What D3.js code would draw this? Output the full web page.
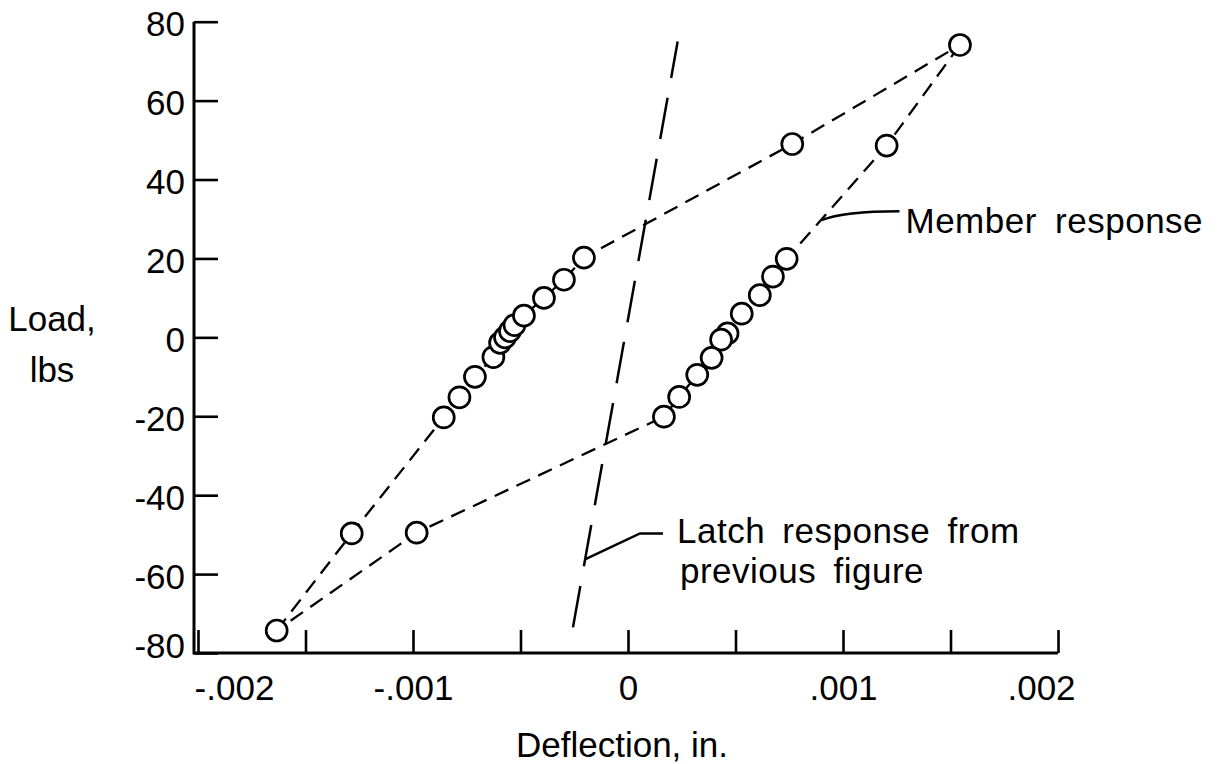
<!DOCTYPE html>
<html>
<head>
<meta charset="utf-8">
<script src="https://cdn.jsdelivr.net/npm/d3@7/dist/d3.min.js"></script>
<style>
  html, body { margin: 0; padding: 0; background: #fff; }
  svg { display: block; }
  text { font-family: "Liberation Sans", Arial, Helvetica, sans-serif; fill: #000; }
</style>
</head>
<body>
<svg id="chart" width="1219" height="764"></svg>
<script>
// Member response: loading branch (from -74 lbs up to +74 lbs), deflection in inches
const loadingDeflection = [-0.001634, -0.001285, -0.000857, -0.000784, -0.000712, -0.000626,
  -0.000595, -0.000572, -0.000549, -0.000528, -0.000484, -0.000391, -0.000298, -0.000205,
  0.000764, 0.001544];
const loadingLoad = [-74.3, -49.7, -20.3, -15.2, -10, -5, -1.4, 0, 1.6, 3.1, 5.5, 10, 14.6, 20.2,
  49.0, 74.1];

// Member response: unloading branch (from +74 lbs back down to -74 lbs)
const unloadingDeflection = [0.001544, 0.001203, 0.000738, 0.000674, 0.000613, 0.000529,
  0.000463, 0.000433, 0.000389, 0.000322, 0.000238, 0.000167, -0.000983, -0.001634];
const unloadingLoad = [74.1, 48.6, 19.9, 15.4, 10.7, 6.0, 1.0, -0.6, -5.2, -9.5, -15.1, -20.1,
  -49.5, -74.3];

// Latch response from previous figure (straight line)
const latchDeflection = [-0.000256, 0.000231];
const latchLoad = [-73.5, 75];

// Axis ticks
const xTickValues = [-0.002, -0.0015, -0.001, -0.0005, 0, 0.0005, 0.001, 0.0015, 0.002];
const xTickLabels = ["-.002", "", "-.001", "", "0", "", ".001", "", ".002"];
const yTickValues = [80, 60, 40, 20, 0, -20, -40, -60, -80];
const yTickLabels = ["80", "60", "40", "20", "0", "-20", "-40", "-60", "-80"];

const svg = d3.select("#chart");
const x = d3.scaleLinear().domain([-0.002, 0.002]).range([198, 1058]);
const y = d3.scaleLinear().domain([-80, 80]).range([653, 21.7]);

const FONT = 35;

// Frame: left and bottom axis lines
const frameLeft = x(-0.002) - 4;
svg.append("path")
  .attr("d", `M${frameLeft},${y(80)}V${y(-80)}H${x(0.002)}`)
  .attr("fill", "none").attr("stroke", "#000").attr("stroke-width", 3);

// X axis ticks (pointing up into the plot)
const xAxis = d3.axisBottom(x)
  .tickValues(xTickValues)
  .tickSizeInner(-23).tickSizeOuter(0)
  .tickPadding(22)
  .tickFormat((d, i) => xTickLabels[i]);
const gx = svg.append("g").attr("transform", `translate(0,${y(-80)})`).call(xAxis);
gx.select(".domain").remove();
gx.selectAll(".tick line").attr("stroke", "#000").attr("stroke-width", 2.6);
gx.selectAll(".tick text")
  .attr("font-size", FONT)
  .style("font-family", '"Liberation Sans", Arial, sans-serif')
  .attr("fill", "#000")
  .attr("dy", "0.71em")
  .attr("dx", (d, i) => i === 0 ? 36 : (i === xTickValues.length - 1 ? -17 : 0));

// Y axis ticks (pointing right into the plot)
const yAxis = d3.axisLeft(y)
  .tickValues(yTickValues)
  .tickSizeInner(-24).tickSizeOuter(0)
  .tickPadding(9)
  .tickFormat((d, i) => yTickLabels[i]);
const gy = svg.append("g").attr("transform", `translate(${frameLeft},0)`).call(yAxis);
gy.select(".domain").remove();
gy.selectAll(".tick line").attr("stroke", "#000").attr("stroke-width", 2.6);
gy.selectAll(".tick text")
  .attr("font-size", FONT)
  .style("font-family", '"Liberation Sans", Arial, sans-serif')
  .attr("fill", "#000")
  .attr("dy", (d) => d === -80 ? "0.12em" : "0.4em");

// Axis titles
svg.append("text").attr("x", 52).attr("y", 331)
  .attr("text-anchor", "middle").attr("font-size", FONT)
  .text("Load,");
svg.append("text").attr("x", 52).attr("y", 382)
  .attr("text-anchor", "middle").attr("font-size", FONT)
  .text("lbs");
svg.append("text").attr("x", 622).attr("y", 757)
  .attr("text-anchor", "middle").attr("font-size", FONT)
  .text("Deflection, in.");

// Latch response line
const latchPts = latchDeflection.map((d, i) => [d, latchLoad[i]]);
svg.append("path")
  .datum(latchPts)
  .attr("d", d3.line().x(d => x(d[0])).y(d => y(d[1])))
  .attr("fill", "none").attr("stroke", "#000").attr("stroke-width", 2.5)
  .attr("stroke-dasharray", "42 20");

// Member response hysteresis loop
const loadingPts = loadingDeflection.map((d, i) => [d, loadingLoad[i]]);
const unloadingPts = unloadingDeflection.map((d, i) => [d, unloadingLoad[i]]);
const line = d3.line().x(d => x(d[0])).y(d => y(d[1]));
[loadingPts, unloadingPts].forEach(pts => {
  svg.append("path")
    .datum(pts)
    .attr("d", line)
    .attr("fill", "none").attr("stroke", "#000").attr("stroke-width", 2.3)
    .attr("stroke-dasharray", "15 9");
});

// Measured points as open circles
const allPts = loadingPts.concat(unloadingPts.slice(1, -1));
svg.append("g").selectAll("circle")
  .data(allPts)
  .join("circle")
  .attr("cx", d => x(d[0])).attr("cy", d => y(d[1]))
  .attr("r", 10.5)
  .attr("fill", "#fff").attr("stroke", "#000").attr("stroke-width", 2.7);

// Annotation: Member response
const memberAnchor = [0.0009, 29.7];
const mx = x(memberAnchor[0]), my = y(memberAnchor[1]);
svg.append("path")
  .attr("d", `M${mx},${my}Q${mx + 22},${my - 9} ${mx + 78},${my - 9}`)
  .attr("fill", "none").attr("stroke", "#000").attr("stroke-width", 2.5);
svg.append("text").attr("x", mx + 84).attr("y", my + 13)
  .attr("font-size", FONT).attr("letter-spacing", 0.5).attr("word-spacing", 8)
  .text("Member response");

// Annotation: Latch response
const latchAnchor = [-0.0002, -56.3];
const lx = x(latchAnchor[0]), ly = y(latchAnchor[1]);
svg.append("path")
  .attr("d", `M${lx},${ly}L${lx + 55},${ly - 26}H${lx + 78}`)
  .attr("fill", "none").attr("stroke", "#000").attr("stroke-width", 2.5);
svg.append("text").attr("x", lx + 92).attr("y", ly - 16)
  .attr("font-size", FONT).attr("letter-spacing", 0.5).attr("word-spacing", 7)
  .text("Latch response from");
svg.append("text").attr("x", lx + 95).attr("y", ly + 24)
  .attr("font-size", FONT).attr("letter-spacing", 0.5).attr("word-spacing", 7)
  .text("previous figure");
</script>
</body>
</html>
